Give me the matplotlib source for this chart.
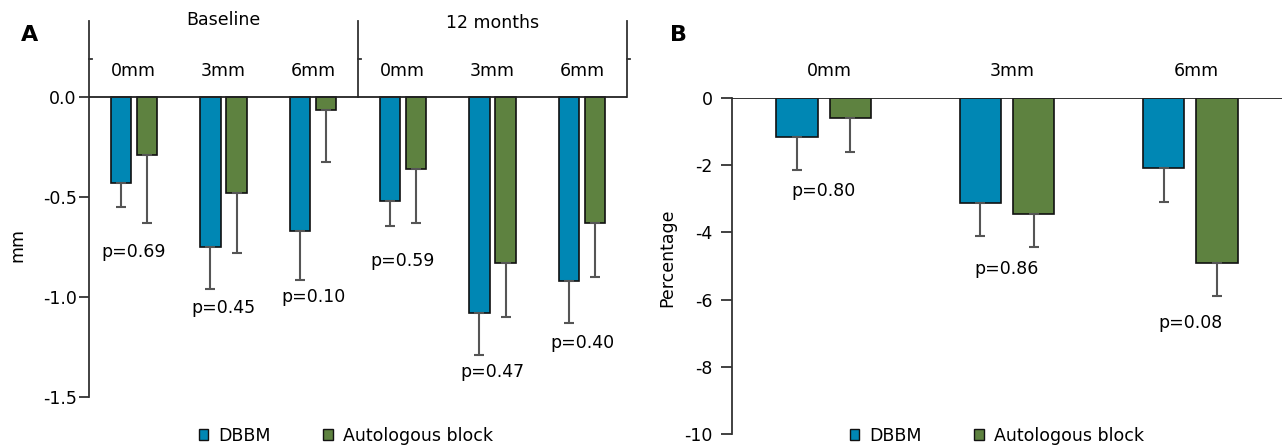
import matplotlib.pyplot as plt
import matplotlib.transforms as mtransforms
from matplotlib.patches import Patch

plt.rcParams["font.family"] = ["DejaVu Sans"]
plt.rcParams["axes.unicode_minus"] = False

# Panel A: change in mm, baseline and 12 months at 0/3/6 mm
depths = ["0mm", "3mm", "6mm"]
periods = ["Baseline", "12 months"]
dbbm_a = [-0.43, -0.75, -0.67, -0.52, -1.08, -0.92]
dbbm_a_err = [0.12, 0.21, 0.245, 0.125, 0.21, 0.21]
auto_a = [-0.29, -0.48, -0.065, -0.36, -0.83, -0.63]
auto_a_err = [0.34, 0.30, 0.26, 0.27, 0.27, 0.27]
p_a = ["p=0.69", "p=0.45", "p=0.10", "p=0.59", "p=0.47", "p=0.40"]
p_a_y = [-0.774, -1.055, -1.0, -0.82, -1.375, -1.23]

# Panel B: change in percentage
dbbm_b = [-1.16, -3.12, -2.10]
dbbm_b_err = [1.0, 1.0, 1.0]
auto_b = [-0.60, -3.45, -4.90]
auto_b_err = [1.0, 1.0, 1.0]
p_b = ["p=0.80", "p=0.86", "p=0.08"]
p_b_y = [-2.76, -5.08, -6.68]

blue = "#0087B4"
green = "#5E8240"
fs = 12.5
W, H = 1282, 447

fig = plt.figure(figsize=(12.82, 4.47), dpi=100)


def draw_bars(ax, dbbm, dbbm_err, auto, auto_err):
    x = list(range(len(dbbm)))
    w, off = 0.225, 0.145
    kw = dict(edgecolor="#111111", linewidth=1.2, zorder=2,
              error_kw=dict(ecolor="#555555", elinewidth=1.5, capsize=3.5, capthick=1.5))
    ax.bar([i - off for i in x], dbbm, w, color=blue,
           yerr=[dbbm_err, [0] * len(x)], **kw)
    ax.bar([i + off for i in x], auto, w, color=green,
           yerr=[auto_err, [0] * len(x)], **kw)
    ax.axhline(0, color="#222222", linewidth=1.3, zorder=3)
    for s in ["top", "bottom", "right"]:
        ax.spines[s].set_visible(False)
    ax.spines["left"].set_color("#333333")
    ax.spines["left"].set_linewidth(1.3)
    ax.set_xticks([])
    ax.tick_params(axis="y", direction="out", length=7, width=1.3,
                   color="#333333", labelsize=fs, pad=2)


# ---- Panel A
axA = fig.add_axes([89 / W, 1 - 397 / H, (627 - 89) / W, (397 - 21) / H])
draw_bars(axA, dbbm_a, dbbm_a_err, auto_a, auto_a_err)
axA.set_xlim(-0.5, 5.5)
axA.set_ylim(-1.5, 0.38)
axA.set_yticks([0, -0.5, -1.0, -1.5])
axA.set_yticklabels(["0.0", "-0.5", "-1.0", "-1.5"])
axA.spines["right"].set_visible(True)
axA.spines["right"].set_bounds(0, 0.38)
axA.spines["right"].set_color("#333333")
axA.spines["right"].set_linewidth(1.3)
axA.plot([2.5, 2.5], [0, 0.38], color="#333333", linewidth=1.3, clip_on=False)
for xv in [-0.5, 2.5, 5.5]:
    axA.plot([xv, xv + 0.03], [0.19, 0.19], color="#333333", linewidth=1.3, clip_on=False)

trA = mtransforms.blended_transform_factory(axA.transData, fig.transFigure)
for i in range(6):
    axA.text(i, 1 - 71 / H, depths[i % 3], transform=trA, ha="center", va="center", fontsize=fs)
    axA.text(i, p_a_y[i], p_a[i], ha="center", va="center", fontsize=fs)
axA.text(1, 1 - 20 / H, periods[0], transform=trA, ha="center", va="center", fontsize=fs)
axA.text(4, 1 - 23 / H, periods[1], transform=trA, ha="center", va="center", fontsize=fs)
fig.text(17 / W, 1 - 245 / H, "mm", rotation=90, ha="center", va="center", fontsize=fs)
fig.text(30 / W, 1 - 35 / H, "A", fontweight="bold", fontsize=16, ha="center", va="center")

# ---- Panel B
axB = fig.add_axes([732 / W, 1 - 434.3 / H, (W - 732) / W, (434.3 - 97.7) / H])
draw_bars(axB, dbbm_b, dbbm_b_err, auto_b, auto_b_err)
axB.set_xlim(-0.5, 2.5)
axB.set_ylim(-10, 0)
axB.set_yticks([0, -2, -4, -6, -8, -10])
axB.tick_params(axis="y", pad=6, length=8)
trB = mtransforms.blended_transform_factory(axB.transData, fig.transFigure)
for i in range(3):
    axB.text(i + 0.03, 1 - 71 / H, depths[i], transform=trB, ha="center", va="center", fontsize=fs)
    axB.text(i, p_b_y[i], p_b[i], ha="center", va="center", fontsize=fs)
fig.text(667 / W, 1 - 258 / H, "Percentage", rotation=90, ha="center", va="center", fontsize=fs)
fig.text(678 / W, 1 - 35 / H, "B", fontweight="bold", fontsize=16, ha="center", va="center")

# ---- Legends
handles = [Patch(facecolor=blue, edgecolor="#111111", linewidth=1.0, label="DBBM"),
           Patch(facecolor=green, edgecolor="#111111", linewidth=1.0, label="Autologous block")]
for cx in [346, 997]:
    fig.legend(handles=handles, loc="center", bbox_to_anchor=(cx / W, 1 - 436 / H),
               ncol=2, frameon=False, fontsize=fs, handlelength=0.55, handleheight=0.6,
               handletextpad=0.6, columnspacing=3.0, borderpad=0)

fig.savefig("out.png", dpi=100)
